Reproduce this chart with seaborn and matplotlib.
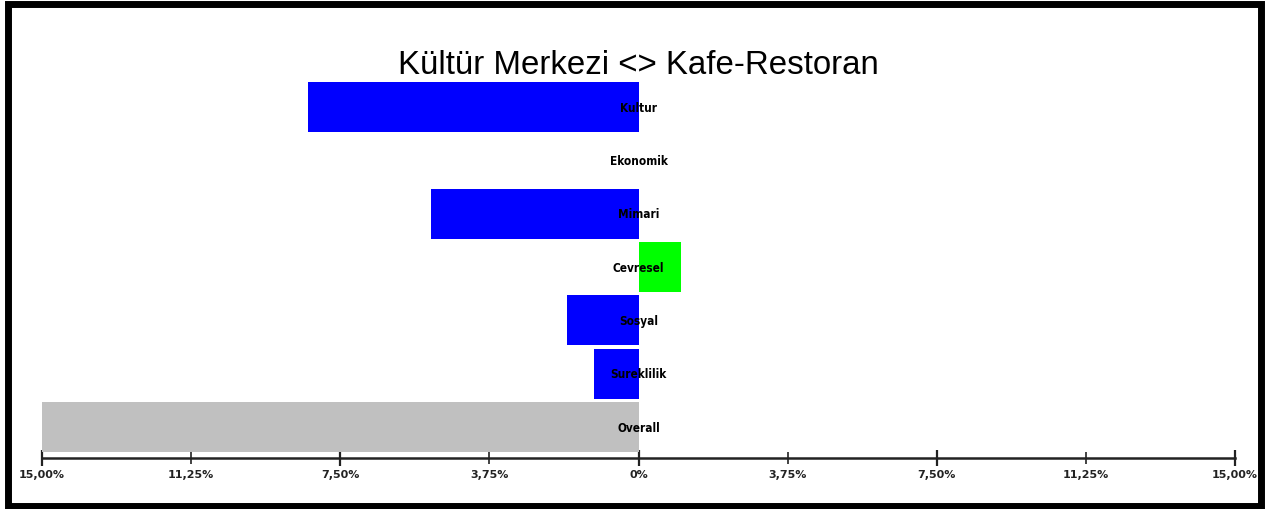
import matplotlib
matplotlib.use("Agg")
import matplotlib.pyplot as plt
from matplotlib import font_manager
from matplotlib.patches import Rectangle
from matplotlib.ticker import FixedLocator, FuncFormatter
import seaborn as sns
import pandas as pd

# Category scores (percent); negative = Kültür Merkezi side, positive = Kafe-Restoran side
categories = ["Kultur", "Ekonomik", "Mimari", "Cevresel", "Sosyal", "Sureklilik", "Overall"]
values = [-8.30, 0.0, -5.22, 1.08, -1.80, -1.12, -15.0]
bar_colors = ["#0000FF", "#0000FF", "#0000FF", "#00FF00", "#0000FF", "#0000FF", "#C0C0C0"]
title = "Kültür Merkezi <> Kafe-Restoran"
major_ticks = [-15, -7.5, 0, 7.5, 15]
minor_ticks = [-11.25, -3.75, 3.75, 11.25]

sns.set_style("white")
names = {f.name for f in font_manager.fontManager.ttflist}
narrow = "Liberation Sans Narrow" if "Liberation Sans Narrow" in names else "DejaVu Sans"
title_font = "Liberation Sans" if "Liberation Sans" in names else "DejaVu Sans"
plt.rcParams["font.family"] = [narrow, "DejaVu Sans"]

W, H = 1277, 510
fig = plt.figure(figsize=(W / 100, H / 100), dpi=100)
ax = fig.add_axes([42 / W, 1 - 459 / H, (1235 - 42) / W, (459 - 76) / H])

df = pd.DataFrame({"category": categories, "value": values})
sns.barplot(data=df, x="value", y="category", hue="category",
            palette=dict(zip(categories, bar_colors)), orient="h",
            width=0.94, dodge=False, legend=False, saturation=1, ax=ax,
            linewidth=0)

# category names sit on the zero line
for i, name in enumerate(categories):
    ax.text(0, i, name, ha="center", va="center", fontsize=8.5,
            fontweight="bold", color="black", fontstretch="condensed")

ax.set_xlim(-15, 15)
ax.set_ylim(6.58, -0.6)
ax.set_xlabel("")
ax.set_ylabel("")
ax.set_yticks([])

def pct(v, pos=None):
    a = abs(v)
    if a == 0:
        return "0%"
    return f"{a:.2f}".replace(".", ",") + "%"

ax.xaxis.set_major_locator(FixedLocator(major_ticks))
ax.xaxis.set_minor_locator(FixedLocator(minor_ticks))
ax.xaxis.set_major_formatter(FuncFormatter(pct))
ax.xaxis.set_minor_formatter(FuncFormatter(pct))
ax.tick_params(axis="x", which="major", bottom=True, direction="inout", length=12,
               width=1.6, color="#222222", labelsize=8, pad=2)
ax.tick_params(axis="x", which="minor", bottom=True, direction="inout", length=8,
               width=1.2, color="#222222", labelsize=8, pad=4)
for lab in ax.get_xticklabels(which="both"):
    lab.set_fontweight("bold")
    lab.set_color("#222222")

for side in ["top", "left", "right"]:
    ax.spines[side].set_visible(False)
ax.spines["bottom"].set_linewidth(1.8)
ax.spines["bottom"].set_color("#222222")

fig.text(638 / W, 1 - 66 / H, title, ha="center", va="center",
         fontsize=23.8, family=[title_font, "DejaVu Sans"], color="black")

# heavy outer frame
fig.patches.append(Rectangle((7.5 / W, 3.5 / H), 1253 / W, 501.5 / H,
                             transform=fig.transFigure, fill=False,
                             edgecolor="black", linewidth=5.0,
                             joinstyle="miter", zorder=10))

fig.savefig("out.png", dpi=100)
